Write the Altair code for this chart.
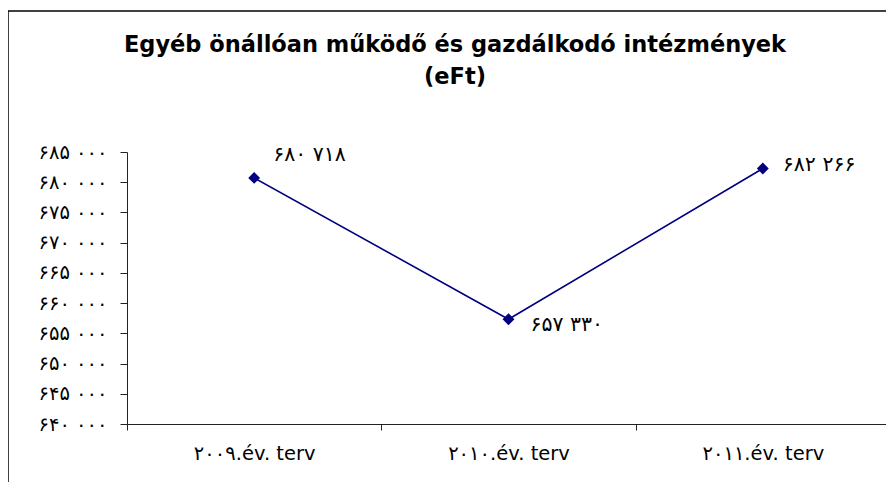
import altair as alt
import pandas as pd

categories = ["۲۰۰۹.év. terv", "۲۰۱۰.év. terv", "۲۰۱۱.év. terv"]
values = [680718, 657330, 682266]
y_ticks = [640000, 645000, 650000, 655000, 660000, 665000, 670000, 675000, 680000, 685000]
y_tick_labels = ["۶۴۰ ۰۰۰", "۶۴۵ ۰۰۰", "۶۵۰ ۰۰۰", "۶۵۵ ۰۰۰", "۶۶۰ ۰۰۰",
                 "۶۶۵ ۰۰۰", "۶۷۰ ۰۰۰", "۶۷۵ ۰۰۰", "۶۸۰ ۰۰۰", "۶۸۵ ۰۰۰"]
title_lines = ["Egyéb önállóan működő és gazdálkodó intézmények", "(eFt)"]

persian = str.maketrans("0123456789", "۰۱۲۳۴۵۶۷۸۹")


def fmt(v):
    s = f"{v:,}".replace(",", " ")
    return s.translate(persian)


df = pd.DataFrame({"cat": categories, "val": values, "label": [fmt(v) for v in values]})

FONT = "DejaVu Sans"
NAVY = "#000080"

label_expr = "[" + ",".join(f"'{t}'" for t in y_tick_labels) + f"][round((datum.value - {y_ticks[0]}) / {y_ticks[1] - y_ticks[0]})]"

x_enc = alt.X(
    "cat:N",
    sort=categories,
    bandPosition=0.5,
    scale=alt.Scale(type="band", paddingInner=0, paddingOuter=0),
    axis=alt.Axis(
        title=None, labelAngle=0, tickBand="extent", tickSize=6, labelPadding=14,
        labelFontSize=19.5, labelFont=FONT, labelColor="black",
        domainColor="#222", tickColor="#222",
    ),
)
y_enc = alt.Y(
    "val:Q",
    scale=alt.Scale(domain=[y_ticks[0], y_ticks[-1]], nice=False, zero=False),
    axis=alt.Axis(
        title=None, values=y_ticks, labelExpr=label_expr, grid=False,
        tickSize=7, labelPadding=13, labelFontSize=19.5, labelFont=FONT, labelColor="black",
        domainColor="#222", tickColor="#222",
    ),
)

base = alt.Chart(df)

line = base.mark_line(color=NAVY, strokeWidth=1.6).encode(x=x_enc, y=y_enc)
points = base.mark_point(shape="diamond", filled=True, color=NAVY, size=140, opacity=1).encode(x=x_enc, y=y_enc)

label_offsets = [(19, -23), (22, 6), (20, -4)]
label_layers = []
for cat, (dx, dy) in zip(categories, label_offsets):
    label_layers.append(
        base.transform_filter(alt.datum.cat == cat)
        .mark_text(align="left", baseline="middle", dx=dx, dy=dy, fontSize=20.5, font=FONT, color="black")
        .encode(x=x_enc, y=y_enc, text="label:N")
    )

one = alt.Data(values=[{"a": 1}])
frame_left = alt.Chart(one).mark_rule(color="black", strokeWidth=1.5).encode(
    x=alt.value(-119), y=alt.value(-141), y2=alt.value(360)
)
frame_top = alt.Chart(one).mark_rule(color="black", strokeWidth=1.5).encode(
    x=alt.value(-119.75), x2=alt.value(800), y=alt.value(-141)
)

title1 = alt.Chart(one).mark_text(
    text=title_lines[0], font=FONT, fontSize=22.5, fontWeight="bold", color="black",
    align="center", baseline="alphabetic",
).encode(x=alt.value(328), y=alt.value(-100))
title2 = alt.Chart(one).mark_text(
    text=title_lines[1], font=FONT, fontSize=22.5, fontWeight="bold", color="black",
    align="center", baseline="alphabetic",
).encode(x=alt.value(328), y=alt.value(-68))

chart = alt.layer(frame_left, frame_top, title1, title2, line, points, *label_layers).properties(
    width=763,
    height=272,
    autosize=alt.AutoSizeParams(type="none"),
    padding={"left": 119, "top": 144, "right": -4, "bottom": 58},
).configure_view(strokeWidth=0)

chart.save("out.html", embed_options={"renderer": "svg", "actions": False})
